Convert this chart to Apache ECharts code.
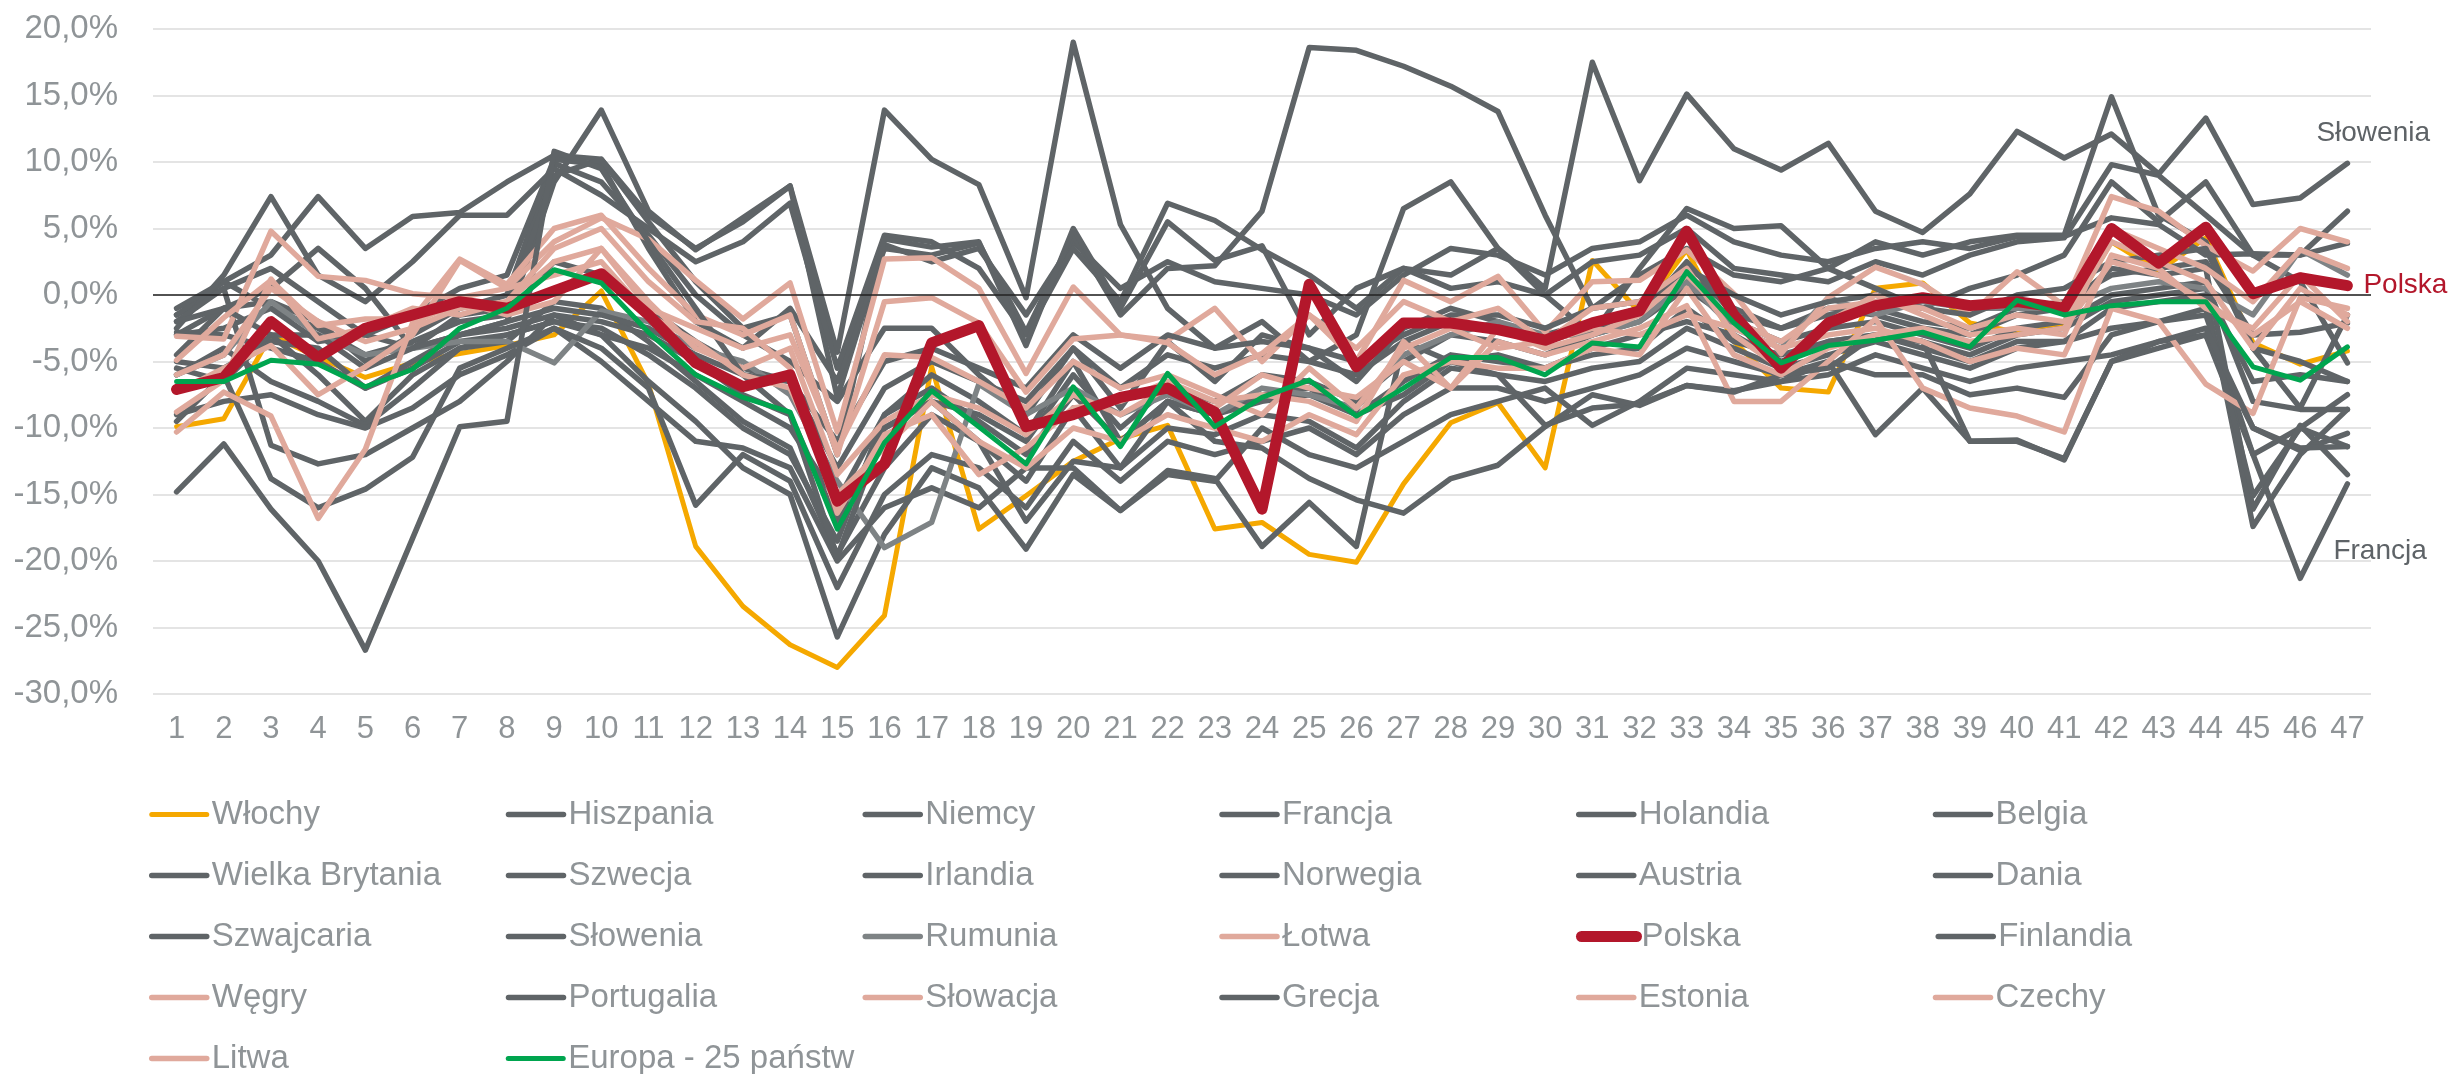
<!DOCTYPE html>
<html>
<head>
<meta charset="utf-8">
<script src="https://cdn.jsdelivr.net/npm/echarts@6/dist/echarts.min.js"></script>
<style>
  html, body { margin: 0; padding: 0; background: #fff; }
  #chart { width: 2448px; height: 1074px; }
</style>
</head>
<body>
<div id="chart"></div>
<script>
// tygodnie 1..47
var categories = ['1','2','3','4','5','6','7','8','9','10','11','12','13','14','15','16','17','18','19','20',
  '21','22','23','24','25','26','27','28','29','30','31','32','33','34','35','36','37','38','39','40',
  '41','42','43','44','45','46','47'];

var yTicks = [-30, -25, -20, -15, -10, -5, 0, 5, 10, 15, 20];

// wartości w %
var wlochy = [-9.9,-9.3,-3.0,-4.7,-6.2,-5.1,-4.4,-3.8,-3.0,0.3,
  -6.7,-18.9,-23.4,-26.3,-28.0,-24.1,-5.4,-17.6,-15.1,-12.5,
  -10.8,-9.8,-17.6,-17.1,-19.5,-20.1,-14.2,-9.6,-8.1,-13.0,
  2.6,-1.3,3.4,-3.5,-7.0,-7.3,0.5,0.9,-2.1,-2.8,
  -2.1,4.0,1.8,4.3,-3.6,-5.2,-4.2];
var hiszpania = [-1.5,0.5,-11.3,-12.7,-12,-10,-8,-5,-1.5,-3,
  -6.5,-9.5,-13,-15,-25.7,-18,-13,-14.5,-19.1,-13.5,
  -16.2,-13.2,-13.8,-18.9,-15.6,-18.9,-3.5,-5,-6,-9.8,
  -8.5,-8.2,-6.8,-7.2,-6.5,-6,-4.5,-5.5,-6.5,-5.5,
  -5,-4.5,-3.5,-3,-12,-10,-7.5];
var niemcy = [-2.8,-3,-4,-5,-7,-5.5,-3.5,-3,-2,-3,
  -4,-6,-8,-10,-15.5,-9,-7,-9.5,-12,-7.5,
  -11,-8,-9,-8,-7.5,-9,-6.5,-4.5,-5,-5.5,
  -4.5,-4,-1,-3.5,-4.5,-3.5,-3,-3.5,-4.5,-3,
  -2.5,-0.5,0,0.5,-6.5,-6,-6.5];
var francja = [-5.5,-6.5,-3,-6,-9.5,-6,-4,-3,-2,-2.5,
  -4.5,-7,-10,-12,-18.5,-9,-6,-8,-10.5,-5,
  -11,-8,-9,-7.5,-7,-9,-7.5,-5,-4.5,-5.5,
  -4,-3,-2,-3,-5,-3.5,-3,-4,-5,-3.5,
  -3.5,-2.5,-2,-1.5,-12,-21.3,-14.2];
var holandia = [-4.5,-1,-0.5,-2,-5,-3,-1,0,9.9,8.5,
  4.5,0,-3,-5,-8,-2.5,-2.5,-6,-9,-4,
  -8.5,-3.5,-6.5,-3,-4,-6.5,-2.5,-1,-2,-3.5,
  -2.5,-1.5,2.5,-1.5,-2.5,-1,-1.5,-2.5,-3,-1.5,
  -1,2,1.5,2,-16.1,-9.8,-13.5];
var belgia = [-6,-4,-6.5,-8,-9.8,-7,-4,-3.5,-0.5,-1,
  -3.5,-6.5,-9.5,-11.5,-19.5,-13,-9,-11,-14,-8.5,
  -13,-10,-10.5,-9,-9.5,-11.5,-8,-5.5,-6,-6.5,
  -5.5,-5,-2.5,-4,-5.5,-4.5,-3.5,-4.5,-5.5,-4,
  -3.5,-1,-0.5,0,-17.4,-12,-8.6];
var wielkaBrytania = [-9,-8,-7.5,-9,-10,-8.5,-6,-4.5,-2.5,-5,
  -8,-11,-11.5,-13,-20,-16,-14.5,-16,-13,-13,
  -16.2,-13.5,-14,-10,-12,-13,-11,-9,-8,-7,
  -9.8,-8,-5.5,-6,-6.5,-5,-10.5,-7,-11,-10.9,
  -12.4,-5,-4,-3,-10,-11.7,-10.4];
var szwecja = [-1.5,1.0,3.0,7.4,3.5,5.9,6.2,8.5,10.5,10.2,
  6,3.5,5.5,8.2,-7.7,3.8,2.5,3.5,-1.5,4.0,
  0.5,2.5,1.0,0.5,0.0,-1.5,1.5,3.5,3.0,1.5,
  3.5,4.0,6.0,4.0,3.0,2.5,3.5,4.0,3.5,4.4,
  4.4,5.8,5.3,3.0,3.1,3.0,3.9];
var irlandia = [-3,-1,0.5,3.5,0.5,-4,-3,-2,8.5,13.9,
  6.3,3.4,5.8,8.2,-4.3,13.9,10.2,8.3,-0.2,19.0,
  5.3,-1.0,-4,-2,-5,-3,6.5,8.5,3.5,0,
  -3,2,6.5,5.0,5.2,2,4,3,4,4.5,
  4.5,14.9,6,4,-4,-8.5,-1.5];
var norwegia = [-1,1,-1,-3.5,-3,-1.5,0.5,1.5,10.2,9.8,
  3.5,-2,-4,-1,-6.5,3.5,3.0,3.9,-2.8,4.5,
  -1.5,2.0,2.2,6.3,18.6,18.4,17.2,15.7,13.8,6.0,
  -1.0,1.5,3.5,1.5,1.0,2.0,0.5,-1,0.5,1.5,
  3.0,8.5,5.5,8.5,3.0,1.0,-5.1];
var austria = [-5,-5.5,-3.5,-4,-7,-5,-3,-2.5,-1.5,-2,
  -3,-5,-7.5,-9,-17,-10,-8,-9,-11,-6,
  -10,-7,-8,-6,-6.5,-8,-5,-3,-3.5,-4.5,
  -3,-2,0.5,-2,-3.5,-2.5,-2,-3,-4,-2.5,
  -2,0,0.5,1.0,-8,-8.6,-8.6];
var dania = [-2.5,1.5,7.4,1.5,-0.5,2.5,6.0,6.0,9.5,7.5,
  5.0,2.5,4.0,6.9,-5.5,4.5,4.0,2.0,-3.0,3.5,
  -0.5,6.9,5.6,3.4,1.5,-1.0,2.0,0.5,1.0,0.0,
  2.5,3.0,5.0,2.0,1.5,1.0,2.5,1.5,3.0,4.0,
  4.3,9.8,9.0,6.0,3.0,3.0,6.3];
var szwajcaria = [-3,-2.5,-1,-2.5,-4.5,-3.5,-2,-1.5,2.5,1.5,
  -1,-3.5,-5.5,-6.5,-13,-7,-5,-6.5,-8,-4,
  -7,-4.5,-5.5,-4.5,-5,-6,-3.5,-2,-2.5,-3,
  -2,-1,1.5,-1,-2.5,-1.5,-1,-2,-2.5,-1,
  -0.5,1.5,2.0,2.5,-3,-2.8,-2.1];
var slowenia = [-2,0.5,2.0,-0.5,-3,-4,-1.5,-1,9.0,10.2,
  5.5,1.0,-2.5,-1.5,-12.0,4.2,3.6,4.0,-3.8,5.0,
  -1.0,5.5,2.6,3.7,-3.0,0.5,2.0,1.5,3.5,0.5,
  17.5,8.6,15.1,11.0,9.4,11.4,6.3,4.7,7.6,12.3,
  10.3,12.1,9.1,13.3,6.8,7.3,9.9];
var rumunia = [-6,-4.5,-0.5,-3,-4.5,-4,-3.5,-3.5,-5.1,-1.2,
  -2,-4,-5,-7.5,-14,-19,-17.1,-6.7,-9,-7,
  -9,-7.5,-9,-7,-7.5,-8.5,-4.5,-3,-2,-3,
  -3,-2,1.0,-2.5,-4,-0.2,-1.5,-0.5,-1,-1,
  -1,0.5,1.0,0.5,-1.5,3.4,1.5];
var lotwa = [-3.1,-3.3,4.8,1.4,1.1,0.1,-0.2,0.5,4.0,5.8,
  4.2,1.1,-1.8,0.9,-10.3,2.7,2.8,0.5,-5.9,0.6,
  -3.0,-3.4,-1.0,-5.0,-1.5,-5.0,1.1,-0.5,1.4,-2.8,
  1.0,1.1,3.4,0.1,-4.4,-0.2,2.1,0.8,-1.5,1.75,
  -0.8,7.4,6.3,3.7,1.8,5.0,4.0];
var polska = [-7.1,-6.2,-2.0,-4.7,-2.5,-1.5,-0.5,-1.0,0.3,1.6,
  -1.5,-5.1,-6.9,-6.0,-15.5,-12.7,-3.6,-2.3,-9.9,-9.0,
  -7.7,-7.0,-8.8,-16.1,0.8,-5.4,-2.1,-2.1,-2.6,-3.4,
  -2.1,-1.2,4.8,-1.5,-5.5,-2.1,-0.8,-0.2,-0.8,-0.5,
  -1.0,5.0,2.4,5.1,0.1,1.3,0.7];
var finlandia = [-2,-1,-3,-3,-5.5,-4,-3,-2,-1,-1.5,
  -2.5,-4.5,-6,-6.5,-11,-5,-4,-5.5,-7,-3,
  -5.5,-3,-4,-3.5,-4,-5,-3,-1.5,-1.5,-2.5,
  -1,-0.5,2,0,-1.5,-0.5,0,-1,-1.5,0,
  0.5,2.5,3.0,3.5,-4,-5,-6.5];
var wegry = [-4.9,-1.7,1.1,-2.3,-1.8,-1.8,2.7,0.8,5.0,6.0,
  2.0,-1.5,-3.0,-1.5,-12.0,-0.5,-0.2,-2.1,-7.3,-3.3,
  -3.0,-3.6,-6.0,-4.4,-1.5,-4.0,-0.5,-2.0,-1.0,-3.5,
  -1.0,-0.5,2.0,-3.0,-5.5,-2.0,0.0,-1.5,-3.0,-2.5,
  -3.0,5.0,3.5,2.0,-0.5,3.4,2.0];
var portugalia = [-9.5,-6,-13.8,-16,-14.6,-12.2,-5.5,-4,-2.5,-4,
  -7,-15.8,-12,-14,-22,-15,-12,-13,-16,-11,
  -14,-11,-12,-11,-10,-12,-9,-7,-7,-8,
  -7,-6,-4,-5,-6,-5,-6,-6,-7.5,-7,
  -7.7,-3,-2,-1,-15.1,-10,-11.4];
var slowacja = [-10.3,-7.3,-9.1,-16.8,-11.6,-2.1,-0.5,-1.5,-0.5,3.5,
  -0.5,-4.0,-5.5,-4.0,-13.5,-9.5,-7.5,-8.5,-10.5,-7.5,
  -9.0,-7.0,-8.5,-6.0,-7.0,-7.7,-5.0,-7.0,-3.5,-4.5,
  -3.5,-2.5,-0.8,-8.0,-8.0,-5.0,-1.8,-7.0,-8.5,-9.1,
  -10.3,-1.0,-2.0,-6.7,-8.9,-0.2,-1.0];
var grecja = [-14.8,-11.2,-16.1,-20,-26.7,-18.3,-9.9,-9.5,10.8,9.5,
  4,-1,-6,-9,-19.7,-10,-8,-11,-17,-12.5,
  -13,-8,-11,-11.5,-13.8,-15.4,-16.4,-13.8,-12.8,-9.9,
  -7.5,-8.3,-6.8,-7.3,-6,-5.5,-3,-3.5,-11,-11,
  -12.3,-5,-3.5,-2.5,-10,-11.5,-11.4];
var estonia = [-8.8,-6.4,1.2,-3.3,-2.5,-1.0,-1.5,-0.5,2.5,3.5,
  -1.0,-2.5,-4.0,-3.0,-11.6,-4.5,-4.7,-6.5,-8.5,-5.0,
  -7.0,-6.0,-7.5,-9.0,-5.5,-8.5,-4.0,-2.5,-4.0,-3.5,
  -2.5,-3.0,-1.5,-2.5,-4.0,-3.0,-2.5,-3.5,-5.0,-4.0,
  -4.5,3.0,2.0,-1.0,-2.5,1.5,-2.0];
var czechy = [-7.3,-5.5,-3.8,-7.5,-5.4,-3.0,2.6,0.5,1.5,2.5,
  -1.5,-3.5,-6.0,-7.0,-15.0,-11.5,-8.0,-11.0,-13.0,-10.0,
  -11.0,-9.0,-10.0,-11.0,-9.0,-10.5,-6.0,-5.0,-5.5,-5.5,
  -4.0,-4.5,0.5,-4.5,-6.0,-4.0,-3.0,-2.5,-3.5,-3.0,
  -2.5,2.5,1.5,-0.5,-3.0,-0.5,-2.5];
var litwa = [-6.0,-4.5,0.5,-2.0,-3.5,-2.5,-1.0,-0.5,3.5,5.0,
  1.0,-2.0,-2.5,-5.5,-16.4,-10.5,-9.0,-13.5,-11.5,-8.5,
  -8.0,-6.5,-8.0,-7.5,-8.0,-9.5,-3.5,-7.0,-2.5,-4.0,
  -3.0,-1.5,1.5,-2.0,-3.5,-1.0,-0.5,-1.0,-2.5,-1.5,
  -2.0,4.0,2.5,1.0,-4.0,0.5,-1.5];
var europa = [-6.5,-6.5,-4.9,-5.2,-6.9,-5.6,-2.5,-1.0,1.9,0.9,
  -2.8,-6.0,-7.7,-8.8,-17.6,-11.1,-7.2,-9.9,-12.7,-6.9,
  -11.4,-5.9,-9.9,-7.7,-6.4,-9.1,-7.0,-4.7,-4.7,-6.0,
  -3.6,-3.9,1.75,-2.1,-5.1,-3.8,-3.4,-2.8,-3.9,-0.4,
  -1.5,-0.8,-0.5,-0.5,-5.4,-6.4,-3.9];

var GRAY = '#5f6467', LGRAY = '#7e8385', PINK = '#e0a99c', RED = '#b3172b', ORANGE = '#f5a800', GREEN = '#00a54f';
var FONT = '"Liberation Sans", Arial, sans-serif';
var TEXT = '#8f9497';

// [nazwa, dane, kolor, grubość, przesunięcie etykiety na końcu]
var lines = [
  ['Włochy', wlochy, ORANGE, 5],
  ['Hiszpania', hiszpania, GRAY, 5.5],
  ['Niemcy', niemcy, GRAY, 5.5],
  ['Francja', francja, GRAY, 5.5, [-14, 67]],
  ['Holandia', holandia, GRAY, 5.5],
  ['Belgia', belgia, GRAY, 5.5],
  ['Wielka Brytania', wielkaBrytania, GRAY, 5.5],
  ['Szwecja', szwecja, GRAY, 5.5],
  ['Irlandia', irlandia, GRAY, 5.5],
  ['Norwegia', norwegia, GRAY, 5.5],
  ['Austria', austria, GRAY, 5.5],
  ['Dania', dania, GRAY, 5.5],
  ['Szwajcaria', szwajcaria, GRAY, 5.5],
  ['Słowenia', slowenia, GRAY, 5.5, [-31, -30]],
  ['Rumunia', rumunia, LGRAY, 5.5],
  ['Łotwa', lotwa, PINK, 5.5],
  ['Polska', polska, RED, 11, [16, 0]],
  ['Finlandia', finlandia, GRAY, 5.5],
  ['Węgry', wegry, PINK, 5.5],
  ['Portugalia', portugalia, GRAY, 5.5],
  ['Słowacja', slowacja, PINK, 5.5],
  ['Grecja', grecja, GRAY, 5.5],
  ['Estonia', estonia, PINK, 5.5],
  ['Czechy', czechy, PINK, 5.5],
  ['Litwa', litwa, PINK, 5.5],
  ['Europa - 25 państw', europa, GREEN, 5]
];

var series = lines.map(function (l, i) {
  var s = {
    name: l[0],
    type: 'line',
    data: l[1],
    symbol: 'none',
    color: l[2],
    z: (l[0] === 'Polska' || l[0] === 'Europa - 25 państw') ? 3 : 2,
    lineStyle: { color: l[2], width: l[3], join: 'round', cap: 'round' }
  };
  if (l[4]) {
    s.endLabel = {
      show: true,
      formatter: l[0],
      distance: 0,
      offset: l[4],
      color: l[0] === 'Polska' ? RED : '#5e6367',
      fontSize: 28,
      fontFamily: FONT
    };
  }
  if (i === 0) {
    s.markLine = {
      silent: true,
      symbol: 'none',
      label: { show: false },
      lineStyle: { color: '#222', width: 1.5, type: 'solid' },
      data: [{ yAxis: 0 }]
    };
  }
  return s;
});

var chart = echarts.init(document.getElementById('chart'));
chart.setOption({
  animation: false,
  backgroundColor: '#fff',
  grid: { left: 153, right: 77, top: 29, bottom: 380 },
  xAxis: {
    type: 'category',
    data: categories,
    boundaryGap: true,
    axisLine: { show: false },
    axisTick: { show: false },
    axisLabel: { color: TEXT, fontSize: 31, fontFamily: FONT, margin: 20 }
  },
  yAxis: {
    type: 'value',
    min: yTicks[0],
    max: yTicks[yTicks.length - 1],
    interval: 5,
    axisLine: { show: false },
    axisTick: { show: false },
    splitLine: { lineStyle: { color: '#e4e4e4', width: 2 } },
    axisLabel: {
      color: TEXT, fontSize: 33, fontFamily: FONT, margin: 35,
      formatter: function (v) { return v.toFixed(1).replace('.', ',') + '%'; }
    }
  },
  legend: {
    left: 149,
    top: 789,
    width: 2160,
    padding: 0,
    itemWidth: 55,
    itemHeight: 12,
    itemGap: 10,
    itemStyle: { opacity: 0 },
    lineStyle: { width: 'inherit', cap: 'round' },
    data: lines.map(function (l) { return l[0]; }),
    textStyle: { color: TEXT, fontSize: 33, fontFamily: FONT, width: 284, lineHeight: 51, padding: [0, 0, 0, 0] }
  },
  series: series
});
</script>
</body>
</html>
